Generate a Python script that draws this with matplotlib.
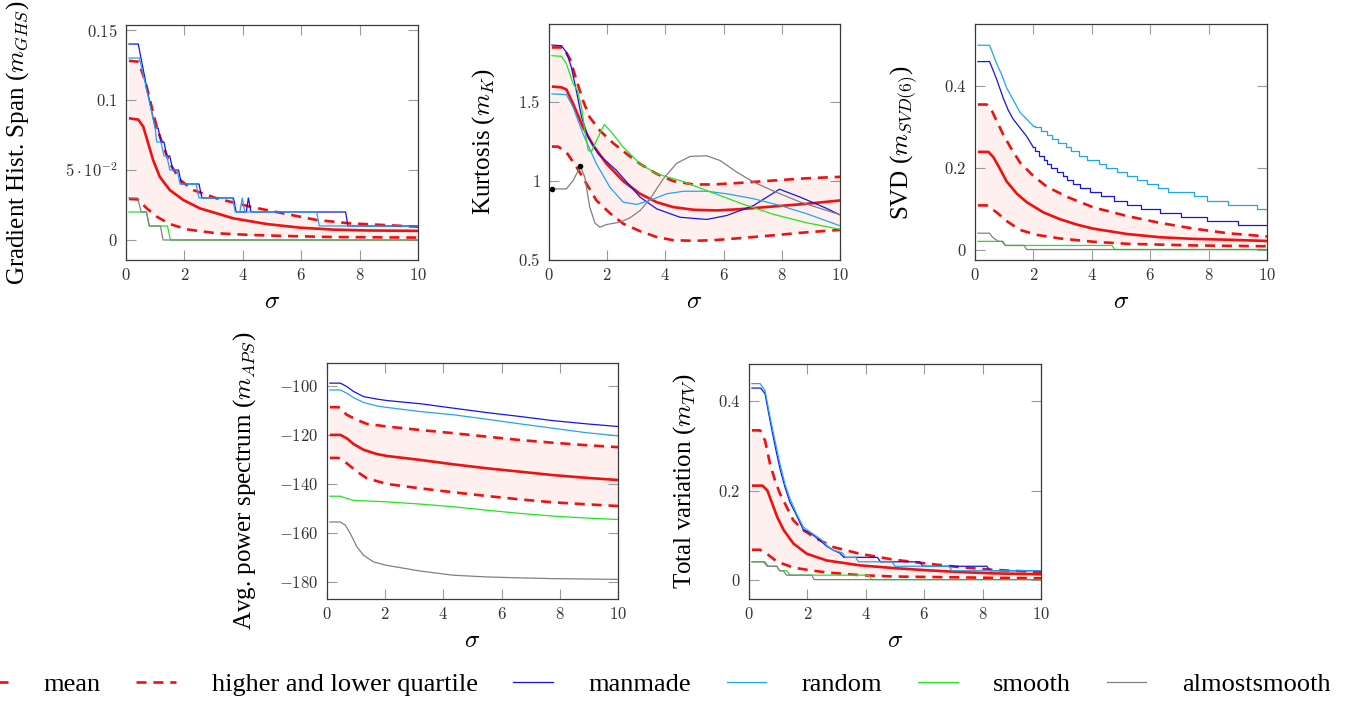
import numpy as np
import matplotlib
matplotlib.use("Agg")
import matplotlib.pyplot as plt
from matplotlib.lines import Line2D

plt.rcParams['font.family'] = ['Liberation Serif', 'DejaVu Serif']
plt.rcParams['mathtext.fontset'] = 'cm'

# ---------------------------------------------------------------- data
# every series is a list of (sigma, value) pairs

# Gradient histogram span
ghs_mean = [(0.1, 0.087), (0.42, 0.086), (0.59, 0.081), (0.76, 0.069), (0.93, 0.057),
            (1.16, 0.045), (1.5, 0.0357), (1.96, 0.0286), (2.53, 0.0226), (3.67, 0.0155),
            (4.82, 0.0114), (5.96, 0.0088), (7.1, 0.0074), (8.24, 0.0068), (10.0, 0.0065)]
ghs_upper = [(0.1, 0.128), (0.42, 0.1274), (0.65, 0.1143), (0.82, 0.100), (1.05, 0.081),
             (1.28, 0.0667), (1.5, 0.0548), (1.85, 0.0429), (2.3, 0.0357), (3.1, 0.0298),
             (4.25, 0.0238), (5.39, 0.019), (6.53, 0.0143), (7.67, 0.0119), (10.0, 0.0095)]
ghs_lower = [(0.1, 0.0293), (0.4, 0.029), (0.71, 0.0226), (1.05, 0.0167), (1.5, 0.0114),
             (2.08, 0.0076), (3.1, 0.0048), (4.25, 0.0036), (5.39, 0.0029), (7.1, 0.0021),
             (10.0, 0.0017)]
ghs_manmade = [(0.1, 0.14), (0.42, 0.14), (0.7, 0.11), (1.0, 0.08), (1.1, 0.08), (1.2, 0.07),
               (1.3, 0.07), (1.4, 0.06), (1.5, 0.06), (1.6, 0.05), (1.8, 0.05), (1.9, 0.04),
               (2.5, 0.04), (2.6, 0.03), (3.68, 0.03), (3.77, 0.02), (4.12, 0.02), (4.19, 0.03),
               (4.28, 0.02), (7.52, 0.02), (7.6, 0.01), (10.0, 0.01)]
ghs_random = [(0.1, 0.13), (0.46, 0.13), (0.7, 0.108), (1.0, 0.08), (1.05, 0.07), (1.2, 0.07),
              (1.3, 0.06), (1.4, 0.06), (1.5, 0.05), (1.75, 0.05), (1.85, 0.04), (2.4, 0.04),
              (2.5, 0.03), (3.65, 0.03), (3.74, 0.02), (3.9, 0.02), (3.98, 0.03), (4.07, 0.02),
              (6.53, 0.02), (6.62, 0.01), (10.0, 0.01)]
ghs_smooth = [(0.1, 0.02), (0.7, 0.02), (0.8, 0.01), (1.42, 0.01), (1.52, 0.0), (10.0, 0.0)]
ghs_almost = [(0.1, 0.03), (0.4, 0.03), (0.52, 0.02), (0.7, 0.02), (0.8, 0.01), (1.18, 0.01),
              (1.27, 0.0), (10.0, 0.0)]

# Kurtosis
kurt_mean = [(0.1, 1.595), (0.43, 1.59), (0.6, 1.576), (0.83, 1.485), (1.17, 1.338),
             (1.52, 1.223), (1.98, 1.107), (2.55, 0.998), (3.13, 0.918), (3.7, 0.865),
             (4.27, 0.834), (4.97, 0.817), (5.77, 0.813), (6.57, 0.821), (7.72, 0.838),
             (8.86, 0.855), (10.0, 0.876)]
kurt_upper = [(0.1, 1.842), (0.49, 1.842), (0.72, 1.769), (0.95, 1.632), (1.17, 1.506),
              (1.4, 1.401), (1.75, 1.317), (2.21, 1.237), (2.67, 1.17), (3.13, 1.107),
              (3.7, 1.044), (4.27, 0.998), (4.97, 0.977), (5.65, 0.977), (6.57, 0.987),
              (7.72, 1.002), (8.86, 1.016), (10.0, 1.025)]
kurt_lower = [(0.1, 1.216), (0.31, 1.216), (0.6, 1.18), (0.95, 1.086), (1.29, 0.981),
              (1.63, 0.876), (2.09, 0.796), (2.55, 0.729), (3.13, 0.682), (3.7, 0.645),
              (4.27, 0.625), (4.97, 0.621), (5.65, 0.625), (6.57, 0.638), (7.72, 0.656),
              (8.86, 0.675), (10.0, 0.69)]
kurt_manmade = [(0.1, 1.857), (0.43, 1.853), (0.6, 1.811), (0.77, 1.716), (0.95, 1.559),
                (1.12, 1.401), (1.35, 1.275), (1.69, 1.17), (2.32, 1.065), (3.13, 0.897),
                (3.7, 0.823), (4.5, 0.77), (5.42, 0.756), (6.11, 0.781), (7.03, 0.844),
                (7.92, 0.947), (8.63, 0.897), (9.44, 0.834), (10.0, 0.785)]
kurt_random = [(0.1, 1.549), (0.6, 1.544), (0.83, 1.464), (1.17, 1.296), (1.63, 1.107),
               (2.09, 0.96), (2.55, 0.865), (3.01, 0.851), (3.47, 0.876), (4.04, 0.918),
               (4.62, 0.934), (5.42, 0.934), (6.11, 0.918), (7.03, 0.887), (7.94, 0.844),
               (8.86, 0.792), (10.0, 0.716)]
kurt_smooth = [(0.1, 1.79), (0.43, 1.786), (0.6, 1.738), (0.83, 1.612), (0.97, 1.574),
               (1.12, 1.464), (1.23, 1.317), (1.35, 1.191), (1.46, 1.185), (1.63, 1.254),
               (1.9, 1.355), (2.15, 1.306), (2.55, 1.212), (3.13, 1.107), (3.7, 1.044),
               (4.5, 1.002), (5.42, 0.939), (6.57, 0.859), (7.72, 0.788), (8.86, 0.735),
               (10.0, 0.694)]
kurt_almost = [(0.1, 0.949), (0.6, 0.949), (0.83, 1.002), (1.08, 1.091), (1.23, 1.023),
               (1.4, 0.834), (1.58, 0.733), (1.75, 0.707), (1.98, 0.724), (2.44, 0.739),
               (2.78, 0.766), (3.13, 0.812), (3.47, 0.886), (3.93, 1.013), (4.39, 1.111),
               (4.85, 1.154), (5.42, 1.158), (5.88, 1.128), (6.45, 1.055), (7.03, 0.992),
               (7.72, 0.935), (8.63, 0.866), (10.0, 0.786)]
kurt_marked = [0, 3]  # the two black dots on the almostsmooth curve

# SVD(6)
svd_mean = [(0.1, 0.239), (0.46, 0.239), (0.63, 0.226), (0.86, 0.197), (1.08, 0.167),
            (1.43, 0.137), (1.77, 0.116), (2.34, 0.091), (2.92, 0.074), (3.49, 0.061),
            (4.06, 0.051), (5.21, 0.038), (6.35, 0.030), (7.51, 0.026), (8.65, 0.024),
            (10.0, 0.021)]
svd_upper = [(0.1, 0.355), (0.4, 0.355), (0.57, 0.341), (0.74, 0.315), (0.97, 0.281),
             (1.2, 0.252), (1.54, 0.213), (2.0, 0.18), (2.46, 0.154), (3.15, 0.129),
             (4.06, 0.103), (5.21, 0.082), (6.35, 0.065), (7.51, 0.051), (8.65, 0.040),
             (10.0, 0.032)]
svd_lower = [(0.1, 0.108), (0.4, 0.108), (0.74, 0.091), (1.08, 0.070), (1.54, 0.048),
             (2.11, 0.036), (2.92, 0.027), (4.06, 0.019), (5.21, 0.014), (6.35, 0.012),
             (7.51, 0.010), (10.0, 0.008)]
# curved head, then staircase (level, starting sigma)
svd_manmade = [(0.1, 0.46), (0.5, 0.46), (0.74, 0.417), (0.97, 0.37), (1.14, 0.341),
               (1.31, 0.319), (1.54, 0.298), (1.77, 0.277), (2.0, 0.25),
               (2.05, 0.24), (2.2, 0.23), (2.35, 0.22), (2.45, 0.21), (2.6, 0.20), (2.8, 0.19),
               (3.0, 0.18), (3.15, 0.17), (3.35, 0.16), (3.6, 0.15), (3.95, 0.14), (4.3, 0.13),
               (4.75, 0.12), (5.2, 0.11), (5.7, 0.10), (6.35, 0.09), (7.05, 0.08), (7.96, 0.07),
               (8.99, 0.06), (10.0, 0.06)]
svd_random = [(0.1, 0.50), (0.5, 0.50), (0.74, 0.455), (0.91, 0.429), (1.08, 0.396),
              (1.31, 0.366), (1.54, 0.336), (1.77, 0.319), (2.0, 0.302),
              (2.05, 0.30), (2.25, 0.29), (2.45, 0.28), (2.65, 0.27), (2.85, 0.26), (3.1, 0.25),
              (3.3, 0.24), (3.55, 0.23), (3.85, 0.22), (4.25, 0.21), (4.5, 0.20), (4.85, 0.19),
              (5.2, 0.18), (5.55, 0.17), (5.9, 0.16), (6.25, 0.15), (6.6, 0.14), (7.5, 0.13),
              (7.95, 0.12), (8.65, 0.11), (9.65, 0.10), (10.0, 0.10)]
svd_stair_from = 8  # index where the staircase part begins
svd_smooth = [(0.1, 0.02), (0.92, 0.02), (1.03, 0.01), (4.69, 0.01), (4.79, 0.0), (10.0, 0.0)]
svd_almost = [(0.1, 0.04), (0.5, 0.04), (0.6, 0.03), (0.7, 0.025), (0.8, 0.02), (0.95, 0.02),
              (1.05, 0.01), (1.68, 0.01), (1.77, 0.0), (10.0, 0.0)]

# Average power spectrum
aps_mean = [(0.1, -119.9), (0.46, -119.9), (0.68, -121.3), (0.91, -123.6), (1.26, -126.0),
            (1.71, -127.7), (2.06, -128.5), (3.2, -130.1), (4.34, -131.9), (5.48, -133.5),
            (6.63, -134.9), (7.77, -136.3), (8.91, -137.4), (10.0, -138.3)]
aps_upper = [(0.1, -108.6), (0.4, -108.6), (0.68, -111.7), (1.03, -113.8), (1.37, -115.4),
             (2.06, -116.5), (3.2, -117.9), (4.34, -119.2), (5.48, -120.6), (6.63, -122.0),
             (7.77, -123.1), (8.91, -124.1), (10.0, -124.9)]
aps_lower = [(0.1, -129.3), (0.4, -129.3), (0.68, -131.5), (1.03, -134.9), (1.37, -137.6),
             (2.06, -139.9), (3.2, -141.7), (4.34, -143.3), (5.48, -144.8), (6.63, -146.2),
             (7.77, -147.4), (8.91, -148.2), (10.0, -148.9)]
aps_manmade = [(0.1, -98.8), (0.46, -98.8), (0.68, -100.2), (0.91, -102.2), (1.26, -104.3),
               (1.71, -105.3), (2.06, -105.9), (3.2, -107.2), (4.34, -109.0), (5.48, -110.8),
               (6.63, -112.4), (7.77, -114.1), (8.91, -115.4), (10.0, -116.5)]
aps_random = [(0.1, -101.6), (0.46, -101.6), (0.68, -102.9), (0.91, -104.7), (1.26, -106.7),
              (1.71, -108.1), (2.06, -108.7), (3.2, -110.4), (4.34, -111.7), (5.48, -113.5),
              (6.63, -115.4), (7.77, -117.2), (8.91, -119.0), (10.0, -120.3)]
aps_smooth = [(0.1, -144.9), (0.46, -144.9), (0.68, -145.8), (0.91, -146.6), (2.06, -147.2),
              (3.2, -148.1), (4.34, -149.2), (5.48, -150.6), (6.63, -151.9), (7.77, -153.0),
              (8.91, -153.8), (10.0, -154.4)]
aps_almost = [(0.1, -155.4), (0.46, -155.4), (0.63, -156.7), (0.8, -160.1), (1.03, -165.6),
              (1.26, -169.0), (1.6, -171.7), (2.06, -173.1), (3.2, -175.4), (4.34, -177.1),
              (5.48, -177.8), (6.63, -178.2), (7.77, -178.5), (10.0, -178.8)]

# Total variation
tv_mean = [(0.1, 0.211), (0.46, 0.211), (0.63, 0.200), (0.8, 0.170), (0.97, 0.140),
           (1.19, 0.111), (1.52, 0.081), (1.98, 0.058), (2.66, 0.043), (3.8, 0.032),
           (4.94, 0.026), (6.09, 0.021), (7.23, 0.017), (8.37, 0.014), (10.0, 0.012)]
tv_upper = [(0.1, 0.335), (0.38, 0.335), (0.55, 0.312), (0.72, 0.260), (0.89, 0.223),
            (1.06, 0.193), (1.29, 0.163), (1.52, 0.133), (1.86, 0.111), (2.32, 0.092),
            (2.89, 0.073), (3.8, 0.058), (4.94, 0.045), (6.09, 0.036), (7.23, 0.028),
            (8.37, 0.022), (10.0, 0.017)]
tv_lower = [(0.1, 0.067), (0.38, 0.067), (0.61, 0.058), (0.97, 0.040), (1.52, 0.027),
            (2.09, 0.021), (2.66, 0.016), (3.8, 0.010), (4.94, 0.007), (6.09, 0.006),
            (7.23, 0.005), (8.37, 0.004), (10.0, 0.003)]
tv_manmade = [(0.1, 0.43), (0.4, 0.43), (0.55, 0.417), (0.72, 0.357), (0.89, 0.301),
              (1.06, 0.249), (1.23, 0.208), (1.4, 0.174), (1.63, 0.144), (1.86, 0.112),
              (2.09, 0.105), (2.43, 0.088), (2.66, 0.075), (2.89, 0.066), (3.1, 0.06),
              (3.25, 0.05), (4.4, 0.05), (4.5, 0.04), (5.85, 0.04), (5.95, 0.03),
              (8.15, 0.03), (8.25, 0.02), (10.0, 0.02)]
tv_random = [(0.1, 0.44), (0.38, 0.44), (0.55, 0.424), (0.72, 0.365), (0.89, 0.312),
             (1.06, 0.26), (1.23, 0.215), (1.4, 0.182), (1.63, 0.148), (1.86, 0.118),
             (2.09, 0.107), (2.43, 0.092), (2.66, 0.077), (2.89, 0.066), (3.2, 0.06),
             (3.3, 0.05), (3.65, 0.05), (3.75, 0.04), (4.9, 0.04), (5.0, 0.03),
             (6.85, 0.03), (6.95, 0.02), (10.0, 0.02)]
tv_smooth = [(0.1, 0.04), (0.55, 0.04), (0.65, 0.03), (0.95, 0.03), (1.05, 0.02), (1.3, 0.02),
             (1.4, 0.01), (4.1, 0.01), (4.2, 0.0), (10.0, 0.0)]
tv_almost = [(0.1, 0.04), (0.5, 0.04), (0.62, 0.03), (0.95, 0.03), (1.05, 0.02), (1.18, 0.02),
             (1.28, 0.01), (2.15, 0.01), (2.23, 0.0), (10.0, 0.0)]

# axis texts and ticks
x_ticks = [0, 2, 4, 6, 8, 10]
ghs_yticks = [0, 0.05, 0.1, 0.15]
ghs_ylabels = [r'$0$', r'$5\cdot10^{-2}$', r'$0.1$', r'$0.15$']
kurt_yticks = [0.5, 1, 1.5]
kurt_ylabels = [r'$0.5$', r'$1$', r'$1.5$']
svd_yticks = [0, 0.2, 0.4]
svd_ylabels = [r'$0$', r'$0.2$', r'$0.4$']
aps_yticks = [-180, -160, -140, -120, -100]
aps_ylabels = [r'$-180$', r'$-160$', r'$-140$', r'$-120$', r'$-100$']
tv_yticks = [0, 0.2, 0.4]
tv_ylabels = [r'$0$', r'$0.2$', r'$0.4$']

legend_labels = ['mean', 'higher and lower quartile', 'manmade', 'random', 'smooth',
                 'almostsmooth']

# ---------------------------------------------------------------- style
RED = '#f01010'
BLUE = '#1414ee'
CYAN = '#1ea6ee'
GREEN = '#22e422'
GRAY = '#808080'
FILL = '#fff0f0'
W, H = 1356, 703

mean_kw = dict(color=RED, lw=1.9, solid_capstyle='butt')
quart_kw = dict(color=RED, lw=1.9, dashes=(3.8, 2.6))
thin_kw = dict(lw=0.9)


def xy(pts):
    a = np.array(pts, dtype=float)
    return a[:, 0], a[:, 1]


def add_panel(fig, left, top, right, bottom):
    ax = fig.add_axes([left / W, 1 - bottom / H, (right - left) / W, (bottom - top) / H])
    ax.set_xlim(0, 10)
    ax.set_xticks(x_ticks, [f'${t}$' for t in x_ticks])
    ax.tick_params(direction='in', length=7, width=0.8, color='#9a9a9a', top=True,
                   right=True, labelsize=12, labelcolor='#333333', pad=6)
    for s in ax.spines.values():
        s.set_color('#3a3a3a')
        s.set_linewidth(0.9)
    ax.set_xlabel(r'$\sigma$', fontsize=18, labelpad=5)
    return ax


def draw_band(ax, mean, upper, lower):
    ux, uy = xy(upper)
    lx, ly = xy(lower)
    ax.fill(np.concatenate([ux, lx[::-1]]), np.concatenate([uy, ly[::-1]]),
            color=FILL, lw=0, zorder=1)
    ax.plot(*xy(mean), **mean_kw, zorder=2)
    ax.plot(ux, uy, **quart_kw, zorder=2)
    ax.plot(lx, ly, **quart_kw, zorder=2)


def draw_series(ax, manmade, random, smooth, almost):
    ax.plot(*xy(manmade), color=BLUE, **thin_kw, zorder=3)
    ax.plot(*xy(random), color=CYAN, **thin_kw, zorder=3)
    ax.plot(*xy(smooth), color=GREEN, **thin_kw, zorder=3)
    ax.plot(*xy(almost), color=GRAY, **thin_kw, zorder=3)


fig = plt.figure(figsize=(W / 100, H / 100), dpi=100)

# Gradient histogram span
ax1 = add_panel(fig, 126, 25, 418, 260)
draw_band(ax1, ghs_mean, ghs_upper, ghs_lower)
draw_series(ax1, ghs_manmade, ghs_random, ghs_smooth, ghs_almost)
ax1.set_ylim(-0.0143, 0.1536)
ax1.set_yticks(ghs_yticks, ghs_ylabels)
ax1.set_ylabel(r'Gradient Hist. Span ($m_{GHS}$)', fontsize=18)
ax1.yaxis.set_label_coords(-0.325, 0.5)

# Kurtosis
ax2 = add_panel(fig, 549, 24, 840, 260)
draw_band(ax2, kurt_mean, kurt_upper, kurt_lower)
draw_series(ax2, kurt_manmade, kurt_random, kurt_smooth, kurt_almost)
ax2.plot(*xy(kurt_almost), ls='none', marker='o', ms=3, color='black',
         markevery=kurt_marked, zorder=4)
ax2.set_ylim(0.5, 1.99)
ax2.set_yticks(kurt_yticks, kurt_ylabels)
ax2.set_ylabel(r'Kurtosis ($m_K$)', fontsize=18)
ax2.yaxis.set_label_coords(-0.177, 0.5)

# SVD
ax3 = add_panel(fig, 975, 24, 1267, 260)
draw_band(ax3, svd_mean, svd_upper, svd_lower)
k = svd_stair_from
for pts, col in ((svd_manmade, BLUE), (svd_random, CYAN)):
    sx, sy = xy(pts)
    ax3.plot(sx[:k + 1], sy[:k + 1], color=col, **thin_kw, zorder=3)
    ax3.plot(sx[k:], sy[k:], color=col, drawstyle='steps-post', **thin_kw, zorder=3)
ax3.plot(*xy(svd_smooth), color=GREEN, **thin_kw, zorder=3)
ax3.plot(*xy(svd_almost), color=GRAY, **thin_kw, zorder=3)
ax3.set_ylim(-0.0256, 0.552)
ax3.set_yticks(svd_yticks, svd_ylabels)
ax3.set_ylabel(r'SVD ($m_{SVD(6)}$)', fontsize=18)
ax3.yaxis.set_label_coords(-0.188, 0.5)

# Average power spectrum
ax4 = add_panel(fig, 327, 363, 618, 599)
draw_band(ax4, aps_mean, aps_upper, aps_lower)
draw_series(ax4, aps_manmade, aps_random, aps_smooth, aps_almost)
ax4.set_ylim(-186.8, -90.6)
ax4.set_yticks(aps_yticks, aps_ylabels)
ax4.set_ylabel(r'Avg. power spectrum ($m_{APS}$)', fontsize=18)
ax4.yaxis.set_label_coords(-0.236, 0.5)

# Total variation
ax5 = add_panel(fig, 749, 364, 1041, 599)
draw_band(ax5, tv_mean, tv_upper, tv_lower)
draw_series(ax5, tv_manmade, tv_random, tv_smooth, tv_almost)
ax5.set_ylim(-0.0435, 0.484)
ax5.set_yticks(tv_yticks, tv_ylabels)
ax5.set_ylabel(r'Total variation ($m_{TV}$)', fontsize=18)
ax5.yaxis.set_label_coords(-0.175, 0.5)

# shared legend along the bottom
handles = [Line2D([], [], **mean_kw),
           Line2D([], [], **quart_kw),
           Line2D([], [], color=BLUE, **thin_kw),
           Line2D([], [], color=CYAN, **thin_kw),
           Line2D([], [], color=GREEN, **thin_kw),
           Line2D([], [], color=GRAY, **thin_kw)]
fig.legend(handles, legend_labels, loc='center', bbox_to_anchor=(0.479, 0.026),
           ncol=6, frameon=False, fontsize=19, handlelength=1.5, handletextpad=1.35,
           columnspacing=1.35, borderpad=0)

fig.savefig('out.png', dpi=100)
